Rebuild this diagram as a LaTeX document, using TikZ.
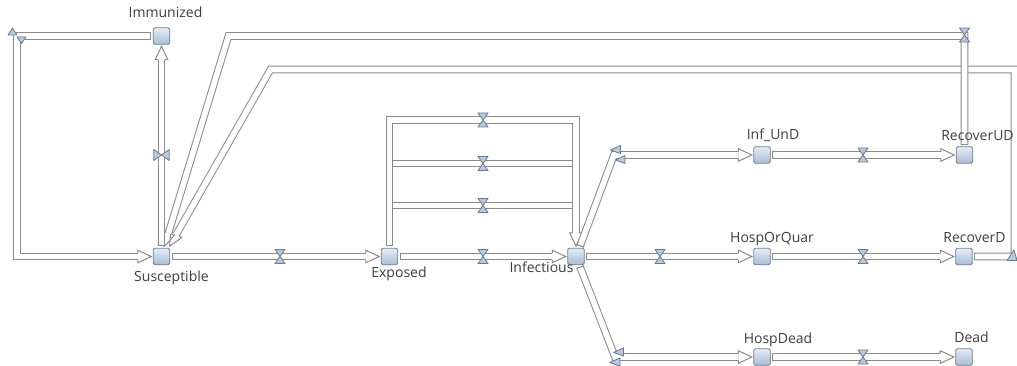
\documentclass[tikz,border=0pt]{standalone}
\usepackage{fontspec}
\setmainfont{Open Sans}
\usetikzlibrary{decorations.markings,calc}

\definecolor{pipeedge}{RGB}{138,138,138}
\definecolor{stockedge}{RGB}{112,126,142}
\definecolor{stocktop}{RGB}{230,237,246}
\definecolor{stockbot}{RGB}{166,188,212}
\definecolor{valvefill}{RGB}{184,201,220}
\definecolor{valveedge}{RGB}{106,122,142}
\definecolor{labeltext}{RGB}{62,62,62}

\tikzset{
  stock/.style={draw=stockedge, line width=0.9pt, top color=stocktop,
    bottom color=stockbot, minimum size=16.5pt, inner sep=0pt, outer sep=2pt,
    rounded corners=1.5pt},
  lbl/.style={text=labeltext, font=\fontsize{14}{16}\selectfont, anchor=base,
    inner sep=0pt},
  edgeline/.style={draw=pipeedge, line width=1pt, line join=miter,
    shorten >=0pt, shorten <=0pt},
  pipe/.style={draw=pipeedge, line width=1pt, double=white,
    double distance=5.6pt, line join=miter},
  flow/.style={pipe, shorten >=13.5pt,
    postaction={decorate, decoration={markings,
      mark=at position 0 with {\draw[edgeline] (0.5,-3.8) -- (0.5,3.8);},
      mark=at position 1 with {\draw[edgeline] (-13.5,3.3) -- (-13.5,6.3)
        -- (0,0) -- (-13.5,-6.3) -- (-13.5,-3.3);}}}},
  valveline/.style={draw=valveedge, fill=valvefill, line width=0.8pt,
    line join=round},
  pics/valve/.style={code={
    \draw[valveline] (-5,-7) -- (5,-7) -- (0,0) -- cycle;
    \draw[valveline] (-5,7) -- (5,7) -- (0,0) -- cycle;
  }}
}

\begin{document}
\begin{tikzpicture}[x=1pt,y=-1pt]
\fill[white] (0,0) rectangle (1017,366);
\useasboundingbox (0,0) rectangle (1017,366);

% stocks
\node[stock] (imm)  at (161.5,36)   {};
\node[stock] (sus)  at (161.5,256.5) {};
\node[stock] (exp)  at (389.5,256.5) {};
\node[stock] (inf)  at (576,256.5)   {};
\node[stock] (iu)   at (762,155)     {};
\node[stock] (hq)   at (762,256.5)   {};
\node[stock] (hd)   at (762,357)     {};
\node[stock] (ru)   at (964.5,155)   {};
\node[stock] (rd)   at (964,256.5)   {};
\node[stock] (dead) at (964,357)     {};

% bend points of the pipes
\coordinate (lossTop) at (17,36);
\coordinate (lossBot) at (17,256.5);
\coordinate (loopL)   at (389.5,120);
\coordinate (loopR)   at (576,120);
\coordinate (barAL)   at (393.3,163.5);
\coordinate (barAR)   at (572.2,163.5);
\coordinate (barBL)   at (393.3,205.5);
\coordinate (barBR)   at (572.2,205.5);
\coordinate (iuBend)  at (614,155);
\coordinate (hdBend)  at (615,357);
\coordinate (ruTop)   at (964.5,36);
\coordinate (ruLeft)  at (228.5,36);
\coordinate (rdRight) at (1014.5,256.5);
\coordinate (rdUp)    at (1014.5,69.5);
\coordinate (rdLeft)  at (270.5,69.5);

% return flows into Susceptible
\draw[flow] (rd.east) -- (rdRight) -- (rdUp) -- (rdLeft) -- ($(sus.north)+(8,0)$);
\draw[flow] (ru.north) -- (ruTop) -- (ruLeft) -- ($(sus.north)+(3,0)$);
\draw[flow] (imm.west) -- (lossTop) -- (lossBot) -- (sus.west);
\draw[flow] (sus.north) -- (imm.south);

% exposure and incubation
\draw[flow] (sus.east) -- (exp.west);
\draw[flow] (exp.north) -- (loopL) -- (loopR) -- (inf.north);
\draw[pipe] (barAL) -- (barAR);
\draw[pipe] (barBL) -- (barBR);
\draw[flow] (exp.east) -- (inf.west);

% outcomes of infection
\draw[flow] ($(inf.north)+(4,0)$) -- (iuBend) -- (iu.west);
\draw[flow] (inf.east) -- (hq.west);
\draw[flow] ($(inf.south)+(4,0)$) -- (hdBend) -- (hd.west);
\draw[flow] (iu.east) -- (ru.west);
\draw[flow] (hq.east) -- (rd.west);
\draw[flow] (hd.east) -- (dead.west);

% valves
\pic at (280,256.5) {valve};
\pic at (483,120)   {valve};
\pic at (483,163.5) {valve};
\pic at (483,205.5) {valve};
\pic at (483,256.5) {valve};
\pic at (660,256.5) {valve};
\pic at (863,155)   {valve};
\pic at (863,256.5) {valve};
\pic at (863,357)   {valve};
\pic at (964.5,35)  {valve};
\pic[rotate=90, scale=1.1] at (161.5,155) {valve};

% valves sitting on bends
\draw[valveline] (8,35) -- (17,35) -- (12.5,28) -- cycle;
\draw[valveline] (17,37) -- (26,37) -- (21.5,43.5) -- cycle;
\draw[valveline] (620.5,145.5) -- (620.5,153.5) -- (610.5,150) -- cycle;
\draw[valveline] (625,155.5) -- (625,163.5) -- (615.5,160) -- cycle;
\draw[valveline] (623.5,348) -- (623.5,356) -- (613.5,352.5) -- cycle;
\draw[valveline] (620,358) -- (620,366) -- (609.5,362.5) -- cycle;
\draw[valveline] (1007,260.5) -- (1017,260.5) -- (1014,250) -- cycle;

% stock names
\node[lbl] (tImm)  at (165.5,18)  {Immunized};
\node[lbl] (tSus)  at (171.5,281) {Susceptible};
\node[lbl] (tExp)  at (399,277)   {Exposed};
\node[lbl] (tInf)  at (541.5,272) {Infectious};
\node[lbl] (tIu)   at (773,140)   {Inf\_UnD};
\node[lbl] (tHq)   at (772,243)   {HospOrQuar};
\node[lbl] (tHd)   at (778,343)   {HospDead};
\node[lbl] (tRu)   at (977.5,141) {RecoverUD};
\node[lbl] (tRd)   at (974.5,243) {RecoverD};
\node[lbl] (tDead) at (971.5,342) {Dead};
\end{tikzpicture}
\end{document}
